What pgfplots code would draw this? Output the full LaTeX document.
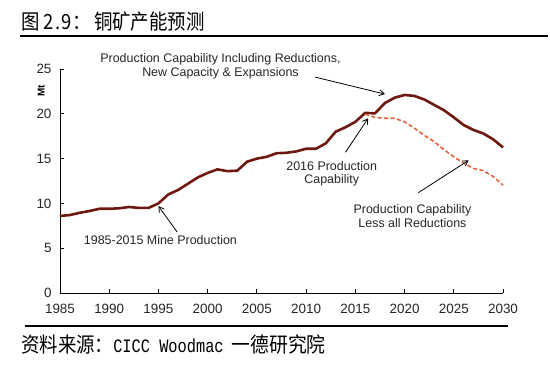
\documentclass[border=0pt]{standalone}
\usepackage{pgfplots}
\pgfplotsset{compat=1.18}
\usetikzlibrary{arrows.meta}
\usepackage{fontspec}
\setmainfont{Liberation Sans}
\newfontfamily\cjk{Noto Sans CJK SC}
\newfontfamily\mono{Liberation Mono}
\definecolor{solidc}{RGB}{110,25,15}
\definecolor{dashc}{RGB}{228,95,60}
\pgfplotstableread{
year val
1985 8.6
1986 8.7
1987 8.95
1988 9.15
1989 9.4
1990 9.4
1991 9.45
1992 9.6
1993 9.5
1994 9.5
1995 10.0
1996 11.0
1997 11.5
1998 12.2
1999 12.9
2000 13.4
2001 13.8
2002 13.6
2003 13.65
2004 14.65
2005 15.0
2006 15.2
2007 15.6
2008 15.65
2009 15.8
2010 16.1
2011 16.1
2012 16.7
2013 18.0
2014 18.5
2015 19.1
2016 20.1
2017 20.05
2018 21.2
2019 21.8
2020 22.1
2021 22.0
2022 21.6
2023 21.0
2024 20.4
2025 19.6
2026 18.75
2027 18.2
2028 17.8
2029 17.15
2030 16.25
}\solid
\pgfplotstableread{
year val
2016 19.95
2017 19.6
2018 19.5
2019 19.5
2020 19.1
2021 18.4
2022 17.6
2023 16.9
2024 16.0
2025 15.2
2026 14.5
2027 13.9
2028 13.65
2029 13.0
2030 12.05
}\dashed
\begin{document}
\begin{tikzpicture}[x=1bp,y=1bp]
\path[use as bounding box,fill=white] (0,0) rectangle (550,367);
% title and rules
\node[anchor=west,inner sep=0pt] at (21,345) {\scalebox{0.88}[1]{\fontsize{21}{22}\selectfont\cjk 图\hspace{5bp}2\hspace{1.5bp}.\hspace{1.5bp}9：\hspace{4bp}铜矿产能预测}};
\draw[line width=2.2bp] (20,331) -- (548,331);
\draw[line width=2.2bp] (25,41) -- (508,41);
\node[anchor=west,inner sep=0pt] at (21,22) {\scalebox{0.88}[1]{\fontsize{21}{22}\selectfont\cjk 资料来源：}\scalebox{0.81}[1]{\fontsize{19}{20}\selectfont\mono CICC Woodmac}\hspace{8bp}\scalebox{0.9}[1]{\fontsize{21}{22}\selectfont\cjk 一德研究院}};
\begin{axis}[
  at={(60bp,74bp)}, anchor=origin,
  width=443bp, height=224bp, scale only axis,
  xmin=1985, xmax=2030, ymin=0, ymax=25,
  xtick={1985,1990,...,2030}, ytick={0,5,...,25},
  axis x line*=bottom, axis y line*=left,
  tick align=inside, major tick length=4bp,
  tick style={black, line width=0.8bp},
  axis line style={black, line width=0.8bp},
  /pgf/number format/assume math mode=true,
  x tick label style={/pgf/number format/1000 sep={}, yshift=-8bp},
  y tick label style={xshift=-5bp},
  tick label style={font=\fontsize{13.5}{15}\selectfont, color=black!85},
  clip=false,
]
\addplot[solidc, line width=2.6bp, line join=round] table[x=year,y=val] {\solid};
\addplot[dashc, line width=1.6bp, dash pattern=on 4bp off 2.5bp] table[x=year,y=val] {\dashed};
\node[rotate=90, font=\bfseries\fontsize{10}{12}\selectfont] at (axis cs:1983.1,22.6) {Mt};
\begin{scope}[every node/.style={font=\fontsize{12.5}{13.5}\selectfont, align=center, text=black!85},
  arr/.style={-{Straight Barb[length=5bp,width=6bp]}, line width=0.8bp}]
\node at (axis cs:2001.3,25.3) {Production Capability Including Reductions,\\New Capacity \& Expansions};
\draw[arr] (axis cs:2010.9,24.1) -- (axis cs:2018.0,22.2);
\node at (axis cs:2012.6,13.3) {2016 Production\\Capability};
\draw[arr] (axis cs:2014.0,15.7) -- (axis cs:2016.3,19.5);
\node at (axis cs:2020.8,8.6) {Production Capability\\Less all Reductions};
\draw[arr] (axis cs:2021.4,11.2) -- (axis cs:2026.5,14.8);
\node at (axis cs:1995.2,5.9) {1985-2015 Mine Production};
\draw[arr] (axis cs:1996.9,6.8) -- (axis cs:1995.0,9.7);
\end{scope}
\end{axis}
\end{tikzpicture}
\end{document}
